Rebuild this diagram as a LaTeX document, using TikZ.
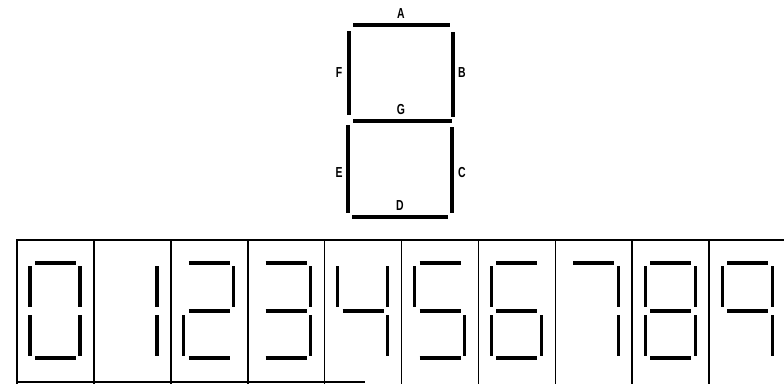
\documentclass[tikz,border=0pt]{standalone}
\usepackage{fontspec}
\newfontfamily\labfont[FakeStretch=0.72]{Liberation Sans}
\tikzset{
  seg/.style={line width=3.2pt, line cap=butt},
  bigseg/.style={line width=3.6pt, line cap=butt},
  frame/.style={line width=1.6pt},
  lab/.style={font=\labfont\bfseries\fontsize{14.5}{15}\selectfont, inner sep=0pt}
}
\newcommand\sgA{\draw[seg] (18,263)--(59,263);}
\newcommand\sgB{\draw[seg] (63,266)--(63,307);}
\newcommand\sgC{\draw[seg] (63,315)--(63,356);}
\newcommand\sgD{\draw[seg] (18,358)--(59,358);}
\newcommand\sgE{\draw[seg] (13,315)--(13,356);}
\newcommand\sgF{\draw[seg] (13,266)--(13,307);}
\newcommand\sgG{\draw[seg] (18,311)--(59,311);}
\begin{document}
\begin{tikzpicture}[x=1pt,y=-1pt]
\useasboundingbox (0,0) rectangle (784,384);
% large labelled display
\draw[bigseg] (353,25)--(450,25);
\draw[bigseg] (349,31)--(349,115);
\draw[bigseg] (453,32)--(453,117);
\draw[bigseg] (353,121)--(452,121);
\draw[bigseg] (348,125)--(348,213);
\draw[bigseg] (452,127)--(452,213);
\draw[bigseg] (352,217)--(448,217);
\node[lab] (la) at (401,14) {A};
\node[lab] (lf) at (339,73) {F};
\node[lab] (lb) at (462,73) {B};
\node[lab] (lg) at (401,110) {G};
\node[lab] (le) at (339,173) {E};
\node[lab] (lc) at (462,173) {C};
\node[lab] (ld) at (400,206) {D};
% frame of digit row
\draw[frame] (17,240)--(784,240);
\draw[frame] (17,382)--(365,382);
\foreach \i in {0,...,9} {
  \draw[frame] ({17+76.9*\i},239) -- ({17+76.9*\i},384);
}
% digits
\foreach \i/\segs in {0/{A,B,C,D,E,F}, 1/{B,C}, 2/{A,B,G,E,D}, 3/{A,B,G,C,D},
  4/{F,G,B,C}, 5/{A,F,G,C,D}, 6/{A,F,G,E,C,D}, 7/{A,B,C},
  8/{A,B,C,D,E,F,G}, 9/{A,B,C,F,G}} {
  \begin{scope}[xshift={17+76.9*\i}]
    \foreach \s in \segs {\csname sg\s\endcsname}
  \end{scope}
}
\end{tikzpicture}
\end{document}
